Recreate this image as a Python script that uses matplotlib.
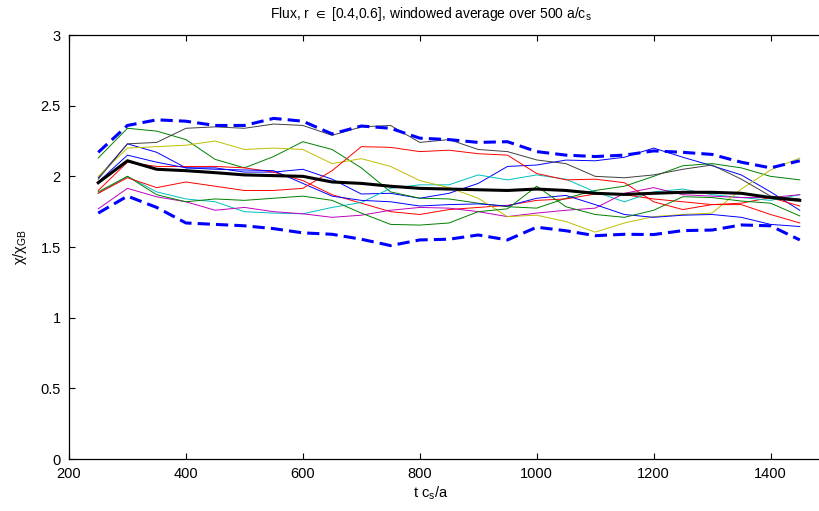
import numpy as np
import matplotlib
matplotlib.use('Agg')
import matplotlib.pyplot as plt

plt.rcParams['font.family'] = ['Liberation Sans', 'DejaVu Sans']
plt.rcParams['mathtext.fontset'] = 'custom'
plt.rcParams['mathtext.rm'] = 'Liberation Sans'
plt.rcParams['mathtext.fallback'] = 'stixsans'

# time axis (t c_s / a)
t = [250, 300, 350, 400, 450, 500, 550, 600, 650, 700, 750, 800, 850,
     900, 950, 1000, 1050, 1100, 1150, 1200, 1250, 1300, 1350, 1400, 1450]

# individual runs, windowed chi/chi_GB
blue_a = [1.99, 2.23, 2.17, 2.06, 2.06, 2.03, 2.03, 2.05, 1.98, 1.875, 1.88, 1.845, 1.88,
          1.95, 2.07, 2.08, 2.115, 2.11, 2.135, 2.20, 2.135, 2.075, 2.01, 1.89, 1.76]
green_a = [2.13, 2.34, 2.32, 2.26, 2.12, 2.06, 2.14, 2.245, 2.19, 2.06, 1.89, 1.845, 1.84,
           1.81, 1.785, 1.775, 1.845, 1.90, 1.93, 2.00, 2.075, 2.09, 2.06, 2.00, 1.975]
red_a = [1.90, 2.10, 2.07, 2.07, 2.07, 2.06, 2.03, 1.97, 1.87, 1.81, 1.75, 1.73, 1.765,
         1.78, 1.795, 1.83, 1.84, 1.875, 1.87, 1.84, 1.82, 1.80, 1.81, 1.85, 1.79]
cyan = [1.88, 2.00, 1.89, 1.84, 1.82, 1.75, 1.74, 1.735, 1.78, 1.815, 1.915, 1.94, 1.94,
        2.01, 1.975, 2.01, 1.98, 1.89, 1.82, 1.89, 1.91, 1.87, 1.85, 1.83, 1.87]
magenta = [1.77, 1.915, 1.855, 1.82, 1.76, 1.78, 1.75, 1.735, 1.71, 1.725, 1.76, 1.78, 1.775,
           1.75, 1.715, 1.74, 1.76, 1.775, 1.88, 1.92, 1.87, 1.86, 1.85, 1.85, 1.87]
yellow = [2.00, 2.20, 2.21, 2.22, 2.25, 2.19, 2.20, 2.19, 2.09, 2.125, 2.07, 1.97, 1.92,
          1.845, 1.715, 1.725, 1.68, 1.605, 1.67, 1.715, 1.73, 1.74, 1.91, 2.045, 2.13]
gray = [1.98, 2.23, 2.24, 2.34, 2.35, 2.34, 2.37, 2.36, 2.29, 2.35, 2.36, 2.24, 2.26,
        2.19, 2.175, 2.116, 2.09, 2.00, 1.99, 2.01, 2.05, 2.08, 1.98, 1.86, 1.84]
blue_b = [1.96, 2.15, 2.10, 2.06, 2.05, 2.045, 2.04, 1.95, 1.86, 1.83, 1.82, 1.79, 1.80,
          1.805, 1.79, 1.845, 1.865, 1.80, 1.73, 1.71, 1.725, 1.73, 1.71, 1.66, 1.645]
green_b = [1.89, 2.00, 1.87, 1.82, 1.84, 1.83, 1.845, 1.86, 1.83, 1.74, 1.66, 1.655, 1.67,
           1.75, 1.77, 1.93, 1.785, 1.73, 1.71, 1.76, 1.856, 1.85, 1.825, 1.81, 1.72]
red_b = [1.88, 1.99, 1.92, 1.96, 1.93, 1.90, 1.90, 1.915, 2.04, 2.21, 2.205, 2.175, 2.185,
         2.16, 2.15, 2.02, 1.975, 1.98, 1.955, 1.82, 1.765, 1.80, 1.80, 1.73, 1.67]

# ensemble mean and mean +/- spread
mean = [1.955, 2.11, 2.05, 2.04, 2.026, 2.01, 2.005, 2.00, 1.96, 1.95, 1.93, 1.915, 1.91,
        1.905, 1.90, 1.91, 1.90, 1.88, 1.872, 1.88, 1.887, 1.887, 1.88, 1.85, 1.83]
upper = [2.17, 2.36, 2.40, 2.39, 2.36, 2.36, 2.41, 2.39, 2.30, 2.356, 2.34, 2.27, 2.26,
         2.24, 2.245, 2.175, 2.15, 2.14, 2.15, 2.18, 2.17, 2.155, 2.10, 2.06, 2.11]
lower = [1.74, 1.86, 1.78, 1.67, 1.66, 1.65, 1.63, 1.60, 1.59, 1.555, 1.51, 1.55, 1.555,
         1.585, 1.55, 1.64, 1.615, 1.58, 1.59, 1.588, 1.616, 1.62, 1.656, 1.65, 1.55]

runs = [blue_a, green_a, red_a, cyan, magenta, yellow, gray, blue_b, green_b, red_b]
colors = [(0, 0, 1), (0, 0.5, 0), (1, 0, 0), (0, 0.75, 0.75), (0.75, 0, 0.75),
          (0.75, 0.75, 0), (0.25, 0.25, 0.25)]

fig = plt.figure(figsize=(8.19, 5.11), dpi=100)
ax = fig.add_axes([69 / 819, 52 / 511, 760 / 819, 424 / 511])

for i, r in enumerate(runs):
    ax.plot(t, r, color=colors[i % len(colors)], lw=0.7)

ax.plot(t, mean, color='k', lw=2.2)
ax.plot(t, upper, color='b', lw=2.2, linestyle=(0, (4, 2)))
ax.plot(t, lower, color='b', lw=2.2, linestyle=(0, (4, 2)))

ax.set_xlim(200, 1500)
ax.set_ylim(0, 3)
ax.set_xticks([200, 400, 600, 800, 1000, 1200, 1400])
ax.set_yticks([0, 0.5, 1, 1.5, 2, 2.5, 3])
ax.set_yticklabels(['0', '0.5', '1', '1.5', '2', '2.5', '3'])
ax.tick_params(direction='in', length=4, width=0.8, top=True, right=True,
               labelsize=10.5, pad=6)
for s in ax.spines.values():
    s.set_linewidth(0.9)

ax.set_ylabel(r'χ/χ$_\mathregular{GB}$', fontsize=10.5, labelpad=8)
fig.text(431 / 819, 1 - 14 / 511,
         r'Flux, r $\in$ [0.4,0.6], windowed average over 500 a/c$_\mathregular{s}$',
         ha='center', va='center', fontsize=10)
fig.text(431 / 819, 1 - 493 / 511, r't c$_\mathregular{s}$/a',
         ha='center', va='center', fontsize=10.5)

fig.savefig('out.png', dpi=100)
